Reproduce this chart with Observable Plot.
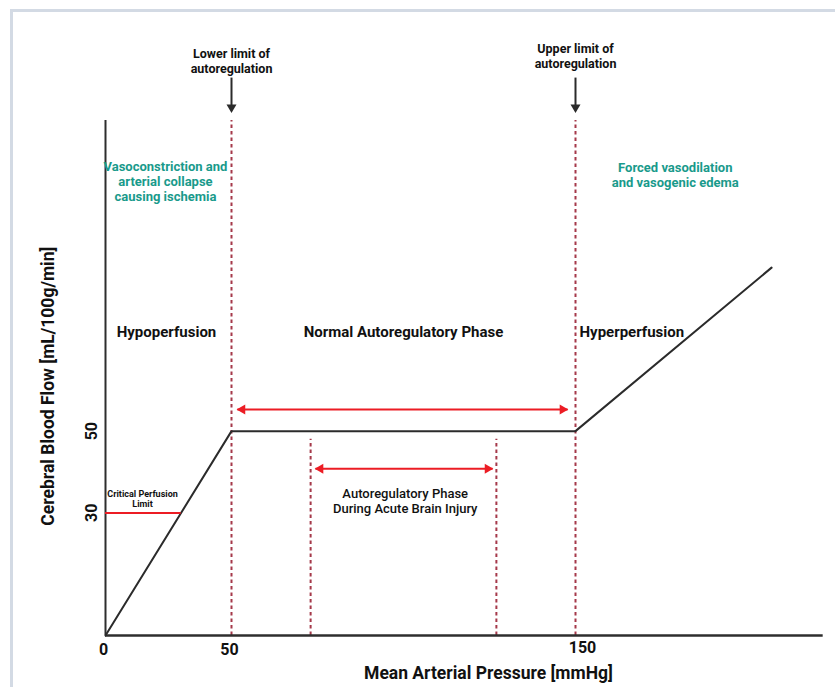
<!DOCTYPE html>
<html><head><meta charset="utf-8">
<script src="https://cdn.jsdelivr.net/npm/d3@7"></script>
<script src="https://cdn.jsdelivr.net/npm/@observablehq/plot@0.6"></script>
<style>
html,body{margin:0;padding:0;background:#fff;}
#wrap{position:relative;width:835px;height:687px;overflow:hidden;background:#fff;}
#border{position:absolute;left:10px;top:9px;width:900px;height:800px;border-left:3px solid #d3dae4;border-top:3px solid #d3dae4;}
#chart{position:absolute;left:0;top:0;}
</style></head><body>
<div id="wrap"><div id="border"></div><div id="chart"></div></div>
<script>
// Curve of cerebral blood flow vs mean arterial pressure
const curveMAP = [0, 50, 150, 207];
const curveCBF = [0, 50, 50, 90];
const xTicks = [0, 50];
const xTickLabels = ["0", "50"];
const xTickUpper = [150];
const yTicks = [30, 50];
const yTickLabels = ["30", "50"];
const autoregLimits = [50, 150];
const injuryLimits = [73, 127];
const criticalPerfusion = 30;
const criticalEndMAP = 30;
const phaseArrowFrom = [51.7, 74.4];
const phaseArrowTo = [147.7, 125.9];
const phaseArrowLevel = [55.3, 40.8];
const limitLabels = ["Lower limit of\nautoregulation", "Upper limit of\nautoregulation"];
const limitLabelLevel = [140.6, 141.8];
const tealLabels = ["Vasoconstriction and\narterial collapse\ncausing ischemia", "Forced vasodilation\nand vasogenic edema"];
const tealLabelMAP = [23.8, 179];
const tealLabelLevel = [111.2, 112.8];
const zoneLabels = ["Hypoperfusion", "Normal Autoregulatory Phase"];
const zoneLabelMAP = [24.2, 100];
const zoneLevel = 74.1;

const curve = curveMAP.map((x, i) => ({x, y: curveCBF[i]}));
const arrows = phaseArrowFrom.map((x1, i) => ({x1, x2: phaseArrowTo[i], y: phaseArrowLevel[i]}));
const limitText = autoregLimits.map((x, i) => ({x, y: limitLabelLevel[i], t: limitLabels[i]}));
const tealText = tealLabels.map((t, i) => ({x: tealLabelMAP[i], y: tealLabelLevel[i], t}));
const zoneText = zoneLabels.map((t, i) => ({x: zoneLabelMAP[i], y: zoneLevel, t}));

const RED = "#ec1c24", DASH = "#a5394a", INK = "#2b2b2b", TEAL = "#199a8b";
const F = "Roboto, 'Noto Sans', sans-serif";

const chart = Plot.plot({
  width: 835, height: 687, margin: 0,
  x: {type: "linear", domain: [0, 50, 150], range: [105, 231, 575], axis: null},
  y: {type: "linear", domain: [0, 126], range: [635, 120], axis: null},
  style: {fontFamily: F, background: "transparent", overflow: "visible"},
  marks: [
    Plot.ruleX(autoregLimits, {y1: 0, y2: 126, stroke: DASH, strokeWidth: 2, strokeDasharray: "3.5,3"}),
    Plot.ruleX(injuryLimits, {y1: 0, y2: 48, stroke: DASH, strokeWidth: 2, strokeDasharray: "3.5,3"}),
    Plot.ruleX([0], {y1: 0, y2: 126, stroke: "#2e2e2e", strokeWidth: 2}),
    Plot.ruleY([0], {x1: 0, x2: 222, stroke: "#2e2e2e", strokeWidth: 2.5}),
    Plot.line(curve, {x: "x", y: "y", stroke: INK, strokeWidth: 2}),
    Plot.ruleY([criticalPerfusion], {x1: 0, x2: criticalEndMAP, stroke: RED, strokeWidth: 2}),
    Plot.link(arrows, {x1: "x1", x2: "x2", y1: "y", y2: "y", stroke: RED, strokeWidth: 2}),
    Plot.dot(arrows, {x: "x2", y: "y", symbol: "triangle", r: 3.7, fill: RED, stroke: null, rotate: 90, dx: -5}),
    Plot.dot(arrows, {x: "x1", y: "y", symbol: "triangle", r: 3.7, fill: RED, stroke: null, rotate: -90, dx: 5}),
    Plot.link(autoregLimits, {x1: d => d, x2: d => d, y1: 136.5, y2: 129, stroke: INK, strokeWidth: 2}),
    Plot.dot(autoregLimits, {x: d => d, y: 128, symbol: "triangle", r: 3.7, fill: INK, stroke: null, rotate: 180, dy: -5}),
    Plot.text(limitText, {x: "x", y: "y", text: "t", fontSize: 12.5, fontWeight: 700, fill: "#111", lineHeight: 1.15}),
    Plot.text(tealText, {x: "x", y: "y", text: "t", fontSize: 13, fontWeight: 700, fill: TEAL, lineHeight: 1.15}),
    Plot.text(zoneText, {x: "x", y: "y", text: "t", fontSize: 15, fontWeight: 700, fill: "#111"}),
    Plot.text(["Hyperperfusion"], {x: 150, y: zoneLevel, text: d => d, textAnchor: "start", dx: 4, fontSize: 15, fontWeight: 700, fill: "#111"}),
    Plot.text(["Critical Perfusion\nLimit"], {x: 14.7, y: 33.5, text: d => d, fontSize: 9, fontWeight: 700, fill: "#111", lineHeight: 1.1}),
    Plot.text(["Autoregulatory Phase\nDuring Acute Brain Injury"], {x: 100.5, y: 33, text: d => d, fontSize: 13, fontWeight: 500, fill: "#111", lineHeight: 1.15}),
    Plot.text(xTicks, {x: d => d, y: 0, text: (d, i) => xTickLabels[i], dy: 14, dx: -2, fontSize: 16, fontWeight: 700, fill: "#111"}),
    Plot.text(xTickUpper, {x: d => d, y: 0, text: d => String(d), dy: 12, dx: 7, fontSize: 16, fontWeight: 700, fill: "#111"}),
    Plot.text(yTicks, {x: 0, y: d => d, text: (d, i) => yTickLabels[i], dx: -14, rotate: -90, fontSize: 16, fontWeight: 700, fill: "#111"}),
    Plot.text(["Cerebral Blood Flow [mL/100g/min]"], {x: 0, y: 61, text: d => d, dx: -57, rotate: -90, fontSize: 17.5, fontWeight: 700, fill: "#111"}),
    Plot.text(["Mean Arterial Pressure [mmHg]"], {x: 124.7, y: 0, text: d => d, dy: 38, fontSize: 17.5, fontWeight: 700, fill: "#111"})
  ]
});
document.getElementById("chart").appendChild(chart);
</script>
</body></html>
